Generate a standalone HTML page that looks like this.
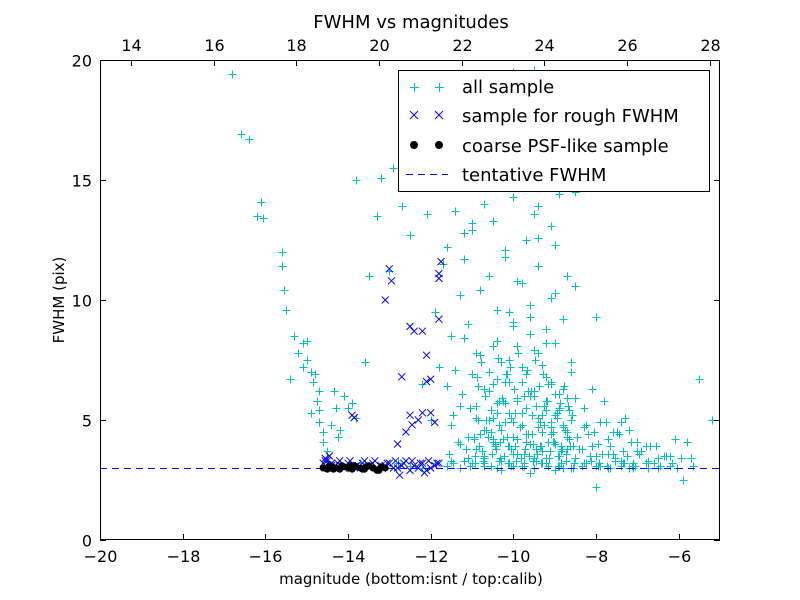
<!DOCTYPE html>
<html><head><meta charset="utf-8"><style>
body{margin:0;background:#fff;}
svg{display:block;font-family:"DejaVu Sans","Liberation Sans",sans-serif;}
</style></head><body>
<svg id="chart" width="800" height="600">
<rect x="0" y="0" width="800" height="600" fill="#fff"/>
<text x="411" y="28" font-size="18" text-anchor="middle">FWHM vs magnitudes</text>
<g id="marks"></g>
<g id="axes"></g>
<text x="411" y="584" font-size="15" text-anchor="middle">magnitude (bottom:isnt / top:calib)</text>
<text x="64" y="300" font-size="15" text-anchor="middle" transform="rotate(-90 64 300)">FWHM (pix)</text>
<g>
<rect x="398.5" y="70.5" width="311" height="121" fill="#fff" stroke="#000" stroke-width="1"/>
<g><path d="M410,87.5h9M414.5,83v9M435,87.5h9M439.5,83v9" stroke="#00bfbf"/><text x="462" y="93" font-size="18">all sample</text></g>
<g><path d="M410,111l8,8M410,119l8,-8M435,111l8,8M435,119l8,-8" stroke="#0000ff"/><text x="462" y="122" font-size="18">sample for rough FWHM</text></g>
<g><circle cx="414" cy="145" r="4" fill="#000"/><circle cx="439" cy="145" r="4" fill="#000"/><text x="462" y="152" font-size="18">coarse PSF-like sample</text></g>
<g><line x1="406" y1="174.5" x2="448" y2="174.5" stroke="#0000ff" stroke-dasharray="7,5"/><text x="462" y="181" font-size="18">tentative FWHM</text></g>
</g>
</svg>
<script>
const xTicks=[-20,-18,-16,-14,-12,-10,-8,-6];
const xTickLabels=["\u221220","\u221218","\u221216","\u221214","\u221212","\u221210","\u22128","\u22126"];
const topTicks=[14,16,18,20,22,24,26,28];
const yTicks=[0,5,10,15,20];
const tentative=[3.0];
const allMag=[-16.8,-16.6,-16.4,-16.2,-16.1,-16.05,-15.6,-15.6,-15.55,-15.5,-15.3,-15.2,-15.1,-15,-15,-14.9,-14.85,-14.8,-14.7,-14.75,-14.7,-14.7,-14.6,-14.5,-14.5,-14.4,-14.3,-14.2,-14.1,-14,-13.8,-13.8,-13.6,-13.5,-13.3,-13.2,-13,-12.9,-12.7,-12.5,-12.3,-12.1,-12.2,-12,-11.9,-11.8,-11.7,-15.4,-15.1,-14.9,-14.6,-14.35,-14.25,-13.9,
-11.6,-11.5,-11.4,-11.3,-11.2,-11.1,-11,-10.9,-10.8,-10.7,-10.6,-10.5,-10.4,-10.3,-10.2,-10.1,-10,-9.9,-9.8,-9.7,-9.6,-9.5,-9.4,-9.3,-9.2,-9.1,-9,-8.9,-8.8,-8.7,-8.6,-8.5,
-11.6,-11.5,-11.4,-11.3,-11.2,-11.1,-11,-10.9,-10.8,-10.7,-10.6,-10.5,-10.4,-10.3,-10.2,-10.1,-10,-9.9,-9.8,-9.7,-9.6,-9.5,-9.4,-9.3,-9.2,-9.1,-9,-8.9,-8.8,-8.7,-8.6,-8.5,
-11.55,-11.45,-11.35,-11.25,-11.15,-11.05,-10.95,-10.85,-10.75,-10.65,-10.55,-10.45,-10.35,-10.25,-10.15,-10.05,-9.95,-9.85,-9.75,-9.65,-9.55,-9.45,-9.35,-9.25,-9.15,-9.05,-8.95,-8.85,-8.75,-8.65,-8.55,-8.45,
-11.5,-11.3,-11.1,-10.9,-10.7,-10.5,-10.3,-10.1,-9.9,-9.7,-9.5,-9.3,-9.1,-8.9,-8.7,-8.5,-10.4,-10.2,-10,-9.8,-9.6,-9.4,-9.2,-9,-10.6,-10.3,-9.7,-9.1,
-10.5,-10.2,-10.0,-9.8,-9.6,-9.4,-9.2,-9.0,-8.8,-10.4,-10.1,-9.9,-9.7,-9.5,-9.3,-9.1,-8.9,-8.7,-10.3,-10,-9.6,-9.3,-9,-8.8,
-8.4,-8.3,-8.2,-8.1,-8,-7.9,-7.8,-7.7,-7.6,-7.5,-7.4,-7.3,-7.2,-7.1,-7,-6.9,-6.7,-6.5,-6.3,-6.1,-5.9,-5.7,-5.5,-5.2,-8.3,-8.1,-7.9,-7.7,-7.4,-7.2,-7,-6.6,-6.2,-5.8,-8,-7.6,-6.8,
-10,-9.5,-9,-9.8,-9.3,-8.5,-8.8,-9.6,-10.2,-10.6,-10.8,-11,-11.2,-9.4,-8,
-14.3,-14,-13.7,-13.4,-13.1,-12.8,-12.5,-12.2,-11.9,-11.6,-11.3,-11,-10.7,-10.4,-10.1,-9.8,-9.5,-9.2,-8.9,-8.6,-8.3,-8,-7.7,-7.4,-7.1,-6.8,-6.5,-6.2,
-10.95,-10.85,-10.75,-10.65,-10.55,-10.45,-10.35,-10.25,-10.15,-10.05,-9.95,-9.85,-9.75,-9.65,-9.55,-9.45,-9.35,-9.25,-9.15,-9.05,-8.95,-8.85,-8.75,-8.65,
-10.9,-10.8,-10.7,-10.6,-10.5,-10.4,-10.3,-10.2,-10.1,-10,-9.9,-9.8,-9.7,-9.6,-9.5,-9.4,-9.3,-9.2,-9.1,-9,-8.9,-8.8,-8.7,-8.6,
-10.92,-10.82,-10.72,-10.62,-10.52,-10.42,-10.32,-10.22,-10.12,-10.02,-9.92,-9.82,-9.72,-9.62,-9.52,-9.42,-9.32,-9.22,-9.12,-9.02,-8.92,-8.82,-8.72,-8.62,
-10.88,-10.78,-10.68,-10.58,-10.48,-10.38,-10.28,-10.18,-10.08,-9.98,-9.88,-9.78,-9.68,-9.58,-9.48,-9.38,-9.28,-9.18,-9.08,-8.98,-8.88,-8.78,-8.68,-8.58,
-10.93,-10.73,-10.53,-10.33,-10.13,-9.93,-9.73,-9.53,-9.33,-9.13,-8.93,-8.73,-8.53,-8.33,-8.13,-7.93,-7.73,-7.53,-7.33,-7.13,
-8.45,-8.35,-8.25,-8.15,-8.05,-7.95,-7.85,-7.75,-7.65,-7.55,-7.45,-7.35,-7.25,-7.15,-6.95,-6.75,-6.55,-6.35,-6.15,-5.95,
-11.45,-11.2,-11.05,-10.7,-10.35,-10.05,-9.75,-9.45,-9.15,-8.85,-8.55,-8.25,-7.95,-7.65,-7.35,-7.05,-6.75,-6.45,-6.05,-5.65];
const allFwhm=[19.4,16.9,16.7,13.5,14.1,13.4,12,11.4,10.4,9.6,8.5,7.8,8.2,7.5,8.3,7,6.6,6.9,6.2,5.8,5.4,4.9,4.1,3.7,3.3,4.8,5.5,4.6,6,5.5,5.1,15,7.4,11,13.5,15.1,11.2,15.5,13.9,12.7,15.9,13.6,6.5,5,9.5,7.2,11.5,6.7,7.2,5.3,4.5,6.2,4.3,5.7,
12.2,8.5,13.7,10.2,11.7,9,12.9,7.8,10.4,14,11,13.3,8.3,16.8,12.1,9.5,14.3,10.8,17.2,12.5,9.8,13.6,11.4,15,8.8,10.1,12.3,14.4,9.2,11,7.4,10.6,
6.4,4.8,7.1,5.6,8.4,4.3,6.9,5.1,7.7,4.6,6.2,8.1,5.3,7.4,4.9,6.6,9.1,5.8,7.2,4.4,8.6,6,7.8,5.2,6.8,4.7,8.2,5.5,6.3,4.5,7,5.9,
3.6,5.2,4.1,6.1,3.8,5.5,4.3,6.4,3.7,5,4.5,3.9,5.8,4.2,6.9,3.8,5.3,4.7,3.6,6.2,4.4,5.6,3.9,4.8,6.5,4.1,5.1,3.7,4.6,5.4,3.9,4.3,
3.3,4,3.4,3.8,3.5,4.2,3.3,3.9,3.6,4.1,3.4,3.7,4.4,3.5,3.8,3.4,9.6,11.8,8.9,10.7,9.3,12.6,8.2,10.3,15.2,18,16.5,13.1,
5.1,5.7,4.9,5.3,6,4.7,5.4,5.2,4.8,6.7,7.5,8.1,6.9,7.9,7.3,6.5,6.1,5.9,2.9,3.1,2.8,3.2,2.9,3,
3.8,5.5,4.4,6.3,3.5,4.9,5.8,4.2,3.6,4.5,3.3,5.1,4.6,3.2,4.1,3.7,3.9,3.4,3.5,4.2,2.5,3.4,6.7,5,4.7,3.9,3.1,3.6,4.9,3,3.7,3.2,3.5,4.1,9.3,4.5,3.9,
19.5,19.6,17.5,16,15.5,14.5,16.8,18.6,17.9,15.8,14.7,13.2,12.8,13.9,2.2,
3.1,3.0,3.2,3.1,3.0,3.2,3.1,3.0,3.2,3.1,3.0,3.2,3.1,3.0,3.2,3.1,3.0,3.2,3.1,3.0,3.2,3.1,3.0,3.1,3.0,3.2,3.0,3.1,
4.2,5.0,3.7,4.6,5.4,4.0,4.8,5.8,4.3,5.1,3.9,4.7,6.0,4.4,5.2,3.8,4.9,5.6,4.1,4.5,5.3,3.9,4.6,4.2,
5.6,4.4,6.3,5.0,4.1,5.7,4.6,6.6,5.3,4.3,5.9,4.8,5.5,4.0,6.2,5.1,4.5,5.8,4.9,4.0,5.4,4.7,4.3,5.0,
3.5,3.9,3.4,4.3,3.6,3.8,4.1,3.5,3.9,3.6,4.2,3.4,3.8,3.5,4.0,3.6,3.9,3.4,3.7,4.1,3.5,3.8,3.6,3.9,
6.8,7.4,6.0,7.0,6.5,7.6,5.9,6.9,7.2,6.3,7.8,6.6,7.1,6.2,7.5,6.4,6.9,5.8,6.6,6.1,5.7,6.4,5.6,5.2,
3.2,3.3,3.1,3.4,3.2,3.3,3.1,3.3,3.2,3.4,3.1,3.3,3.2,3.1,3.3,3.2,3.1,3.3,3.2,3.1,
4.3,3.8,4.8,3.5,4.5,4.0,3.6,4.9,3.9,3.4,4.4,3.7,3.5,4.1,3.6,3.3,3.9,3.5,3.2,3.4,
3.2,3.3,3.1,3.2,3.3,3.1,3.2,3.3,3.1,3.2,3.0,3.2,3.1,3.0,3.2,3.1,3.0,3.1,3.0,3.1];
const roughMag=[-14.55,-14.5,-14.45,-14.4,-13.9,-13.85,-13.1,-13,-12.95,-12.8,-12.7,-12.5,-12.45,-12.5,-12.4,-12.2,-12.1,-12.1,-12,-12,-11.8,-11.75,-11.8,-11.8,-11.9,-12.2,-12.6,-12.3,
-14.6,-14.4,-14.2,-14,-13.8,-13.6,-13.4,-13.2,-13,-12.8,-12.6,-12.4,-12.2,-12,-11.8,-14.5,-14.3,-14.1,-13.9,-13.7,-13.5,-13.3,-13.1,-12.9,-12.7,-12.5,-12.3,-12.1,-11.9,-12.75,-12.15,
-14.55,-14.25,-13.95,-13.65,-13.35,-13.05,-12.85,-12.65,-12.45,-12.25,-12.05,-11.85];
const roughFwhm=[3.4,3.3,3.5,3.2,5.2,5.1,10,11.3,10.8,4,6.8,5.2,4.8,8.9,8.7,8.7,6.6,7.7,6.7,5.3,11.1,11.6,10.9,9.2,4.9,5.3,4.5,5,
3.2,3.1,3.3,3.2,3.1,3.3,3.2,3.1,3.2,3.0,3.3,3.1,3.2,3.0,3.2,3.0,3.1,3.0,3.1,3.0,3.1,3.0,3.1,3.0,3.1,2.9,3.0,2.9,3.1,2.7,2.8,
3.3,3.2,3.3,3.2,3.3,3.2,3.3,3.2,3.3,3.2,3.3,3.2];
const psfMag=[-14.6,-14.5,-14.4,-14.3,-14.2,-14.1,-14,-13.9,-13.8,-13.7,-13.6,-13.5,-13.4,-13.3,-13.2,-13.1,-14.45,-14.15,-13.85,-13.55,-13.25,-14.35,-13.95,-13.65];
const psfFwhm=[3.0,2.95,3.05,3.0,2.95,3.05,3.0,2.95,3.05,3.0,2.95,3.1,3.0,2.9,3.05,3.0,3.1,3.1,3.1,3.05,2.9,2.95,3.1,2.95];

const X0=100,X1=720,Y0=540,Y1=60;
const sx=v=>X0+(v+20)/15*(X1-X0);
const sy=v=>Y0-v/20*(Y0-Y1);
const stx=c=>sx(c-33.25);
const NS='http://www.w3.org/2000/svg';
function mk(tag,attrs,parent){const e=document.createElementNS(NS,tag);for(const k in attrs)e.setAttribute(k,attrs[k]);parent.appendChild(e);return e;}
const marks=document.getElementById('marks');
const axes=document.getElementById('axes');
mk('clipPath',{id:'clip'},marks);
mk('rect',{x:X0,y:Y1,width:X1-X0,height:Y0-Y1},document.getElementById('clip'));
const g=mk('g',{'clip-path':'url(#clip)'},marks);
allMag.forEach((m,i)=>{const x=Math.round(sx(m))+0.5,y=Math.round(sy(allFwhm[i]))+0.5;
 const p=mk('path',{d:`M${x-4},${y}H${x+4}M${x},${y-4}V${y+4}`,stroke:'#00bfbf','stroke-width':1,fill:'none'},g);
 
 });
tentative.forEach(t=>{const y=Math.round(sy(t))+0.5;const l=mk('line',{x1:X0,x2:X1,y1:y,y2:y,stroke:'#0000ff','stroke-dasharray':'7,5','stroke-width':1},g);
 
 });
roughMag.forEach((m,i)=>{const x=sx(m),y=sy(roughFwhm[i]);
 const p=mk('path',{d:`M${x-3.5},${y-3.5}L${x+3.5},${y+3.5}M${x-3.5},${y+3.5}L${x+3.5},${y-3.5}`,stroke:'#0000ff','stroke-width':1,fill:'none'},g);
 
 });
psfMag.forEach((m,i)=>{const c=mk('circle',{cx:sx(m),cy:sy(psfFwhm[i]),r:3.5,fill:'#000'},g);
 
 });
const frame=mk('rect',{x:X0+0.5,y:Y1+0.5,width:X1-X0-1,height:Y0-Y1-1,fill:'none',stroke:'#000','stroke-width':1},axes);


xTicks.forEach((v,i)=>{const x=Math.round(sx(v))+0.5;
 mk('line',{x1:x,x2:x,y1:Y0,y2:Y0-6,stroke:'#000'},axes);
 const t=mk('text',{x:x,y:Y0+22,'font-size':16,'text-anchor':'middle'},axes);t.textContent=xTickLabels[i];
 
 });
topTicks.forEach(v=>{const x=Math.round(stx(v))+0.5;
 mk('line',{x1:x,x2:x,y1:Y1,y2:Y1+6,stroke:'#000'},axes);
 const t=mk('text',{x:x,y:Y1-9,'font-size':16,'text-anchor':'middle'},axes);t.textContent=v;
 
 });
yTicks.forEach(v=>{const y=Math.round(sy(v))+0.5;
 mk('line',{x1:X0,x2:X0+6,y1:y,y2:y,stroke:'#000'},axes);
 mk('line',{x1:X1,x2:X1-6,y1:y,y2:y,stroke:'#000'},axes);
 const t=mk('text',{x:X0-8,y:y+6,'font-size':16,'text-anchor':'end'},axes);t.textContent=v;
 
 });
</script>
</body></html>
